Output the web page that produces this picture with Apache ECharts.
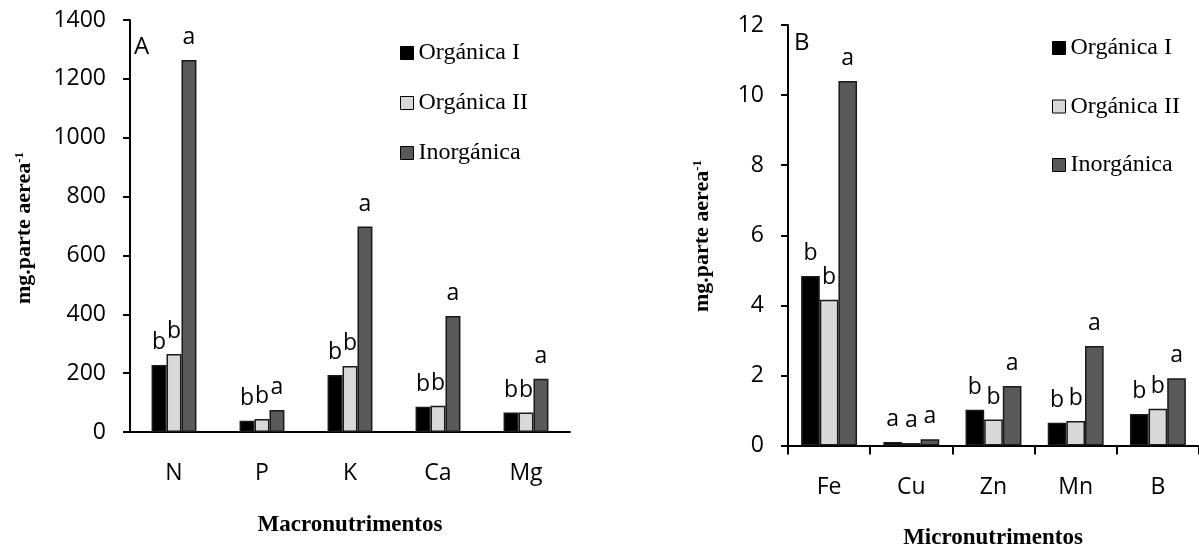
<!DOCTYPE html>
<html>
<head>
<meta charset="utf-8">
<script src="https://cdn.jsdelivr.net/npm/echarts@6/dist/echarts.min.js"></script>
<style>
html,body{margin:0;padding:0;background:#fff;}
#chart{width:1199px;height:550px;}
</style>
</head>
<body>
<div id="chart"></div>
<script>
// ---- Data ----
const seriesNames = ['Orgánica I', 'Orgánica II', 'Inorgánica'];

const macroCategories = ['N', 'P', 'K', 'Ca', 'Mg'];
const macroOrgI = [228, 38, 194, 86, 66];
const macroOrgII = [265, 44, 224, 89, 66];
const macroInorg = [1264, 75, 698, 394, 181];
const macroLettersOrgI = ['b', 'b', 'b', 'b', 'b'];
const macroLettersOrgII = ['b', 'b', 'b', 'b', 'b'];
const macroLettersInorg = ['a', 'a', 'a', 'a', 'a'];
const macroTicks = [0, 200, 400, 600, 800, 1000, 1200, 1400];

const microCategories = ['Fe', 'Cu', 'Zn', 'Mn', 'B'];
const microOrgI = [4.84, 0.10, 1.02, 0.65, 0.90];
const microOrgII = [4.16, 0.07, 0.74, 0.70, 1.05];
const microInorg = [10.4, 0.18, 1.70, 2.84, 1.92];
const microLettersOrgI = ['b', 'a', 'b', 'b', 'b'];
const microLettersOrgII = ['b', 'a', 'b', 'b', 'b'];
const microLettersInorg = ['a', 'a', 'a', 'a', 'a'];
const microTicks = [0, 2, 4, 6, 8, 10, 12];

// ---- Styles ----
const colors = ['#000000', '#d9d9d9', '#595959'];
const sans = 'Open Sans';
const serif = 'Liberation Serif';
const axisLine = { show: true, lineStyle: { color: '#000', width: 2 } };
const tickFont = { fontFamily: sans, fontSize: 23, color: '#000' };

function bar(name, data, letters, xi, color, gap) {
  return {
    name: name, type: 'bar', xAxisIndex: xi, yAxisIndex: xi,
    data: data, barGap: '0%', barCategoryGap: gap,
    itemStyle: { color: color, borderColor: '#1a1a1a', borderWidth: 1.5 },
    label: {
      show: true, position: 'top', distance: 11,
      formatter: p => letters[p.dataIndex],
      fontFamily: sans, fontSize: 23, color: '#000'
    }
  };
}

function legendAt(left, top, gap) {
  return {
    data: seriesNames, orient: 'vertical', left: left, top: top, itemGap: gap,
    itemWidth: 13, itemHeight: 13, icon: 'rect',
    itemStyle: { borderColor: '#000', borderWidth: 1 },
    textStyle: { fontFamily: serif, fontSize: 24, lineHeight: 24, color: '#000' }
  };
}

function yTitle(x, y) {
  return { type: 'text', x: x, y: y, rotation: Math.PI / 2,
    style: { text: '{t|mg.parte aerea}{s|-1}', textAlign: 'center', textVerticalAlign: 'middle',
      rich: { t: { fontFamily: serif, fontWeight: 'bold', fontSize: 22, lineHeight: 22, fill: '#000' },
              s: { fontFamily: serif, fontWeight: 'bold', fontSize: 13, lineHeight: 22, verticalAlign: 'top', fill: '#000' } } } };
}

const chart = echarts.init(document.getElementById('chart'));
chart.setOption({
  animation: false,
  backgroundColor: '#fff',
  grid: [
    { left: 130, top: 20, width: 440, height: 412 },
    { left: 788, top: 25, width: 411, height: 420.5 }
  ],
  xAxis: [
    { type: 'category', gridIndex: 0, data: macroCategories,
      axisLine: axisLine, axisTick: { show: false },
      axisLabel: Object.assign({ margin: 30 }, tickFont) },
    { type: 'category', gridIndex: 1, data: microCategories,
      axisLine: axisLine, axisTick: { show: true, length: 9, lineStyle: { color: '#000', width: 2 } },
      axisLabel: Object.assign({ margin: 30 }, tickFont) }
  ],
  yAxis: [
    { type: 'value', gridIndex: 0, min: macroTicks[0], max: macroTicks[macroTicks.length - 1], interval: 200,
      axisLine: axisLine, axisTick: { show: true, length: 7, lineStyle: { color: '#000', width: 2 } },
      splitLine: { show: false },
      axisLabel: Object.assign({ margin: 24, formatter: v => String(v) }, tickFont) },
    { type: 'value', gridIndex: 1, min: microTicks[0], max: microTicks[microTicks.length - 1], interval: 2,
      axisLine: axisLine, axisTick: { show: true, length: 7, lineStyle: { color: '#000', width: 2 } },
      splitLine: { show: false },
      axisLabel: Object.assign({ margin: 24, formatter: v => String(v) }, tickFont) }
  ],
  legend: [
    legendAt(395, 36, 26),
    legendAt(1047, 31, 34.5)
  ],
  graphic: [
    { type: 'text', x: 134, y: 47, style: { text: 'A', fontFamily: sans, fontSize: 24, fill: '#000', textVerticalAlign: 'middle' } },
    { type: 'text', x: 794, y: 43, style: { text: 'B', fontFamily: sans, fontSize: 24, fill: '#000', textVerticalAlign: 'middle' } },
    { type: 'text', x: 350, y: 525, style: { text: 'Macronutrimentos', font: 'bold 23px "Liberation Serif"', fill: '#000', textAlign: 'center', textVerticalAlign: 'middle' } },
    { type: 'text', x: 993, y: 538, style: { text: 'Micronutrimentos', font: 'bold 23px "Liberation Serif"', fill: '#000', textAlign: 'center', textVerticalAlign: 'middle' } },
    yTitle(24, 228),
    yTitle(702, 236)
  ],
  series: [
    bar(seriesNames[0], macroOrgI, macroLettersOrgI, 0, colors[0], '49%'),
    bar(seriesNames[1], macroOrgII, macroLettersOrgII, 0, colors[1], '49%'),
    bar(seriesNames[2], macroInorg, macroLettersInorg, 0, colors[2], '49%'),
    bar(seriesNames[0], microOrgI, microLettersOrgI, 1, colors[0], '32%'),
    bar(seriesNames[1], microOrgII, microLettersOrgII, 1, colors[1], '32%'),
    bar(seriesNames[2], microInorg, microLettersInorg, 1, colors[2], '32%')
  ]
});
</script>
</body>
</html>
